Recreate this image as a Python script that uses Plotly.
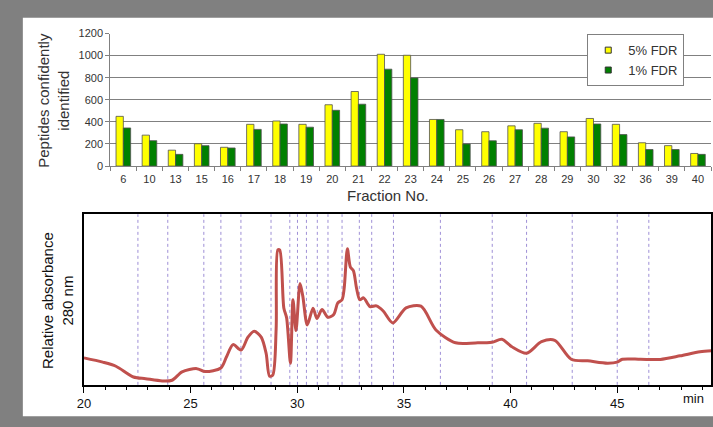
import plotly.graph_objects as go

# ---------------- data ----------------
fractions = ["6", "10", "13", "15", "16", "17", "18", "19", "20", "21", "22", "23",
             "24", "25", "26", "27", "28", "29", "30", "32", "36", "39", "40"]
fdr5 = [450, 280, 144, 202, 170, 378, 408, 378, 555, 675, 1012, 1003,
        422, 329, 311, 364, 387, 311, 431, 378, 211, 185, 114]
fdr1 = [345, 230, 106, 185, 164, 332, 381, 352, 505, 560, 877, 798,
        422, 200, 229, 329, 343, 264, 381, 285, 150, 150, 106]

time_min = [20.00, 20.88, 21.50, 22.32, 22.89, 23.67, 24.13, 24.60, 25.29, 25.68,
            26.42, 26.69, 26.99, 27.37, 27.69, 27.98, 28.31, 28.54, 28.70, 28.85,
            29.01, 29.09, 29.18, 29.37, 29.50, 29.68, 29.80, 29.94, 30.13, 30.26,
            30.47, 30.74, 30.92, 31.16, 31.44, 31.71, 31.90, 32.10, 32.20, 32.35,
            32.49, 32.63, 32.78, 32.93, 33.11, 33.41, 33.71, 34.03, 34.48, 35.10,
            35.80, 36.50, 37.42, 38.35, 39.13, 39.59, 40.06, 40.75, 41.45, 42.07,
            42.84, 43.61, 44.54, 45.00, 45.24, 46.09, 47.02, 47.95, 48.88, 49.42]
absorbance = [15.8, 13.3, 10.9, 4.6, 3.6, 2.3, 2.7, 7.6, 9.5, 7.8,
              9.9, 16.6, 23.6, 20.4, 28.0, 31.4, 28.0, 18.5, 5.1, 5.7,
              32.7, 79.1, 79.0, 45.1, 39.4, 12.7, 49.9, 31.8, 59.4, 52.0,
              35.1, 44.9, 38.9, 44.2, 39.6, 41.3, 48.0, 49.9, 56.6, 79.8,
              69.0, 67.0, 56.6, 49.9, 51.0, 45.9, 46.3, 43.3, 36.3, 45.1,
              46.1, 32.2, 24.7, 24.6, 25.0, 26.7, 22.3, 18.5, 25.3, 26.1,
              15.0, 14.1, 12.7, 13.3, 15.0, 15.0, 14.9, 17.0, 19.4, 20.0]

fraction_boundaries_min = [22.53, 23.93, 25.62, 26.42, 27.36, 28.77, 29.65, 30.01,
                           30.43, 30.94, 31.44, 32.10, 32.91, 33.49, 34.51, 36.71,
                           39.14, 40.75, 42.89, 45.00, 46.48]

bar_yticks = [0, 200, 400, 600, 800, 1000, 1200]
time_ticks = [20, 25, 30, 35, 40, 45]

# ---------------- figure ----------------
W, H = 713, 427
FONT = "Liberation Sans, Arial, sans-serif"
YELLOW, GREEN, EDGE = "#ffff00", "#008000", "#505050"


def px_x(x):
    return x / W


def px_y(y):
    return 1 - y / H


fig = go.Figure()

fig.add_trace(go.Bar(x=fractions, y=fdr5, name="5% FDR", showlegend=False,
                     marker=dict(color=YELLOW, line=dict(color=EDGE, width=0.8)),
                     xaxis="x", yaxis="y"))
fig.add_trace(go.Bar(x=fractions, y=fdr1, name="1% FDR", showlegend=False,
                     marker=dict(color=GREEN, line=dict(color=EDGE, width=0.8)),
                     xaxis="x", yaxis="y"))
# legend entries with small square keys, like the original
fig.add_trace(go.Scatter(x=[None], y=[None], mode="markers", name="5% FDR",
                         marker=dict(symbol="square", size=6, color=YELLOW,
                                     line=dict(color="#333333", width=1)),
                         xaxis="x", yaxis="y"))
fig.add_trace(go.Scatter(x=[None], y=[None], mode="markers", name="1% FDR",
                         marker=dict(symbol="square", size=6, color=GREEN,
                                     line=dict(color="#333333", width=1)),
                         xaxis="x", yaxis="y"))

fig.add_trace(go.Scatter(x=time_min, y=absorbance, mode="lines",
                         line=dict(color="#c0504d", width=3, shape="spline", smoothing=0.8),
                         showlegend=False, xaxis="x2", yaxis="y2"))

shapes = [
    # white panel on gray frame
    dict(type="rect", xref="paper", yref="paper", layer="below",
         x0=px_x(16), x1=1.0, y0=px_y(422), y1=px_y(12),
         fillcolor="white", line=dict(width=0)),
]
for t in fraction_boundaries_min:
    shapes.append(dict(type="line", xref="x2", yref="y2 domain", x0=t, x1=t, y0=0, y1=1,
                       line=dict(color="rgba(125,105,200,0.75)", width=1, dash="dot"),
                       layer="below"))

annotations = [
    dict(text="Peptides confidently<br>identified", xref="paper", yref="paper",
         x=px_x(47), y=px_y(97), textangle=-90, showarrow=False,
         font=dict(family=FONT, size=15, color="#333333"), xanchor="center", yanchor="middle"),
    dict(text="Fraction No.", xref="paper", yref="paper",
         x=px_x(385), y=px_y(195), showarrow=False,
         font=dict(family=FONT, size=15, color="#333333"), xanchor="center", yanchor="middle"),
    dict(text="Relative absorbance<br>280 nm", xref="paper", yref="paper",
         x=px_x(51), y=px_y(303), textangle=-90, showarrow=False,
         font=dict(family=FONT, size=15, color="#111111"), xanchor="center", yanchor="middle"),
    dict(text="min", xref="paper", yref="paper",
         x=px_x(693), y=px_y(404), showarrow=False,
         font=dict(family=FONT, size=13, color="#111111"), xanchor="center", yanchor="middle"),
]

fig.update_layout(
    width=W, height=H, autosize=False,
    margin=dict(l=0, r=0, t=0, b=0, pad=0),
    paper_bgcolor="#808080", plot_bgcolor="white",
    font=dict(family=FONT, size=11, color="#333333"),
    barmode="group", bargap=0.44, bargroupgap=0.0,
    showlegend=True,
    legend=dict(x=px_x(586), y=px_y(29), xanchor="left", yanchor="top",
                bgcolor="white", bordercolor="#808080", borderwidth=1,
                itemwidth=30, tracegroupgap=0,
                font=dict(family=FONT, size=13, color="#333333")),
    xaxis=dict(domain=[px_x(104.3), px_x(711)], anchor="y", type="category",
               showline=True, linecolor="#808080", linewidth=1,
               ticks="outside", ticklen=4, tickcolor="#808080", tickson="boundaries",
               ticklabelstandoff=3,
               showgrid=False, tickfont=dict(size=11, color="#333333")),
    yaxis=dict(domain=[px_y(164.7), px_y(28.3)], anchor="x", range=[0, 1200],
               tickvals=bar_yticks, showline=True, linecolor="#808080", linewidth=1,
               ticks="outside", ticklen=4, tickcolor="#808080",
               showgrid=True, gridcolor="#808080", gridwidth=1, zeroline=False,
               tickfont=dict(size=11, color="#333333")),
    xaxis2=dict(domain=[px_x(77.7), px_x(711.3)], anchor="y2", range=[20, 49.41],
                tickvals=time_ticks, showline=True, linecolor="black", linewidth=1.5,
                mirror=True, ticks="outside", ticklen=6, tickcolor="black",
                minor=dict(dtick=1, ticks="outside", ticklen=3, tickcolor="black"),
                showgrid=False, zeroline=False,
                tickfont=dict(size=13, color="#111111")),
    yaxis2=dict(domain=[px_y(389.8), px_y(214.3)], anchor="x2", range=[0, 100],
                showticklabels=False, ticks="", showline=True, linecolor="black",
                linewidth=1.5, mirror=True, showgrid=False, zeroline=False),
    shapes=shapes,
    annotations=annotations,
)

fig.write_html("out.html", config={"displayModeBar": False},
               post_script="document.body.style.margin='0px';document.body.style.overflow='hidden';")
